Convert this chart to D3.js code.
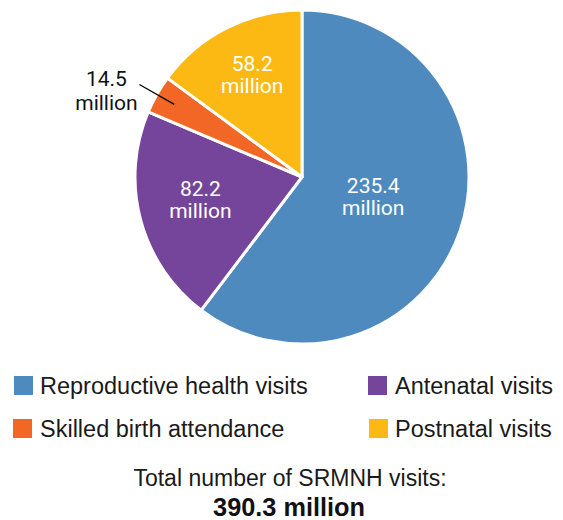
<!DOCTYPE html>
<html><head><meta charset="utf-8">
<script src="https://cdn.jsdelivr.net/npm/d3@7"></script>
<style>body{margin:0;background:#fff}svg{display:block}text{font-family:"Liberation Sans",Arial,sans-serif}</style>
</head><body><svg id="c" width="563" height="520"></svg>
<script>
const categories = ["Reproductive health visits","Antenatal visits","Skilled birth attendance","Postnatal visits"];
const values = [235.4, 82.2, 14.5, 58.2];
const colors = ["#4F8ABE","#74459A","#F26726","#FDB913"];
const totalLabel = "Total number of SRMNH visits:";
const totalValue = "390.3 million";

const svg = d3.select("#c");
const cx = 302, cy = 177, R = 167;
const g = svg.append("g").attr("transform", `translate(${cx},${cy})`);
const pie = d3.pie().sort(null).value(d => d)(values);
const arc = d3.arc().innerRadius(0).outerRadius(R);
g.selectAll("path").data(pie).join("path")
  .attr("d", arc).attr("fill", (d,i) => colors[i])
  .attr("stroke", "#fff").attr("stroke-width", 3).attr("stroke-linejoin","round");

const labelFont = "Roboto, 'Liberation Sans', sans-serif";
pie.forEach((d,i) => {
  const span = d.endAngle - d.startAngle;
  const mid = (d.startAngle + d.endAngle)/2;
  const lines = [String(values[i]), "million"];
  if (span < 0.5) {
    const p1 = [Math.sin(mid)*R*0.88, -Math.cos(mid)*R*0.88];
    const p2 = [Math.sin(mid)*R*1.12, -Math.cos(mid)*R*1.12];
    g.append("line").attr("x1",p1[0]).attr("y1",p1[1]).attr("x2",p2[0]).attr("y2",p2[1])
      .attr("stroke","#000").attr("stroke-width",1.3);
    const t = g.append("text").attr("text-anchor","middle").attr("font-size",21)
      .style("font-family", labelFont).attr("fill","#111");
    lines.forEach((l,j)=> t.append("tspan").attr("x", p2[0]-33).attr("y", p2[1]+1+j*24).text(l));
  } else {
    const lr = span > Math.PI ? R*0.45 : (span > 1 ? R*0.63 : R*0.66);
    const x = Math.sin(mid)*lr, y = -Math.cos(mid)*lr;
    const t = g.append("text").attr("text-anchor","middle").attr("font-size",21)
      .style("font-family", labelFont).attr("fill","#fff");
    lines.forEach((l,j)=> t.append("tspan").attr("x", x).attr("y", y-8+j*22).text(l));
  }
});

// legend
const legPos = [[14,376],[368,376],[13,419],[369,419]];
categories.forEach((c,k) => {
  const [x,y] = legPos[k];
  svg.append("rect").attr("x",x).attr("y",y).attr("width",19).attr("height",19).attr("fill",colors[k]);
  svg.append("text").attr("x",k%2===0 ? 40 : 395).attr("y",y+17.5).attr("font-size",23.5).attr("fill","#1a1a1a").text(c);
});

svg.append("text").attr("x",290).attr("y",486).attr("text-anchor","middle").attr("font-size",23).attr("fill","#1a1a1a").text(totalLabel);
svg.append("text").attr("x",289).attr("y",516).attr("text-anchor","middle").attr("font-size",25.3).attr("font-weight","bold").attr("fill","#111").text(totalValue);
</script></body></html>
